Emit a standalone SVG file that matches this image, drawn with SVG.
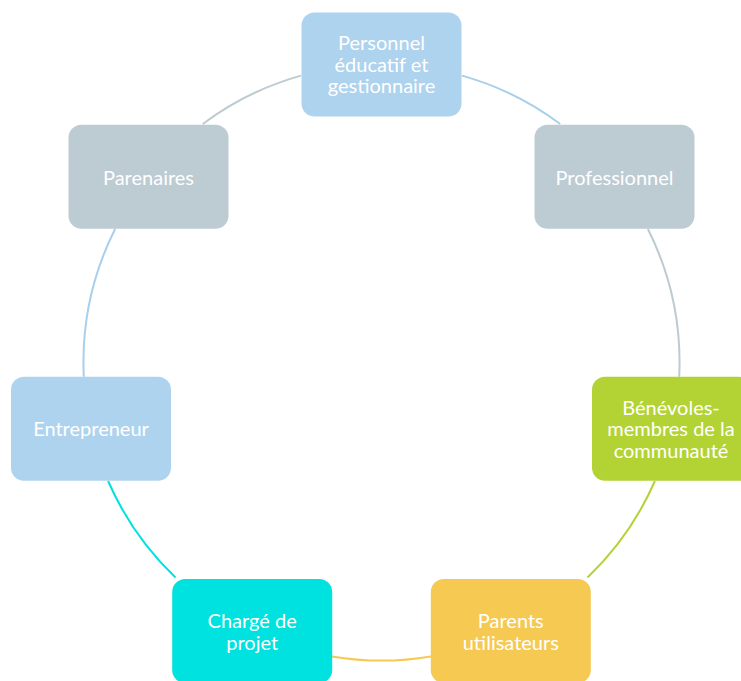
<svg xmlns="http://www.w3.org/2000/svg" width="741" height="681" viewBox="0 0 741 681">
<style>
.n rect{stroke:none}
.t{font-family:Lato,"Open Sans","Liberation Sans",sans-serif;font-size:20px;fill:#ffffff;text-anchor:middle}
.a{fill:none;stroke-width:2}
</style>
<rect width="741" height="681" fill="#ffffff"/>
<g id="connectors">
<path class="a" stroke="#a9cfeb" d="M462,75.6 A298,298 0 0 1 560.2,124"/>
<path class="a" stroke="#bccad2" d="M647.9,229 A298,298 0 0 1 679.2,376.8"/>
<path class="a" stroke="#b3d334" d="M654.9,481 A298,298 0 0 1 587.5,577.5"/>
<path class="a" stroke="#f6c952" d="M431,656.4 A298,298 0 0 1 332,656.4"/>
<path class="a" stroke="#00e2df" d="M175.5,577.5 A298,298 0 0 1 108.1,481"/>
<path class="a" stroke="#a9cfeb" d="M83.8,376.8 A298,298 0 0 1 115.1,229"/>
<path class="a" stroke="#bccad2" d="M202.8,124 A298,298 0 0 1 301,75.6"/>
</g>
<g id="node-personnel" class="n">
<rect x="301.5" y="12.5" width="160" height="104" rx="13" fill="#aed3ee"/>
<text class="t" x="381.5" y="50">Personnel</text>
<text class="t" x="381.5" y="71.5">éducatif et</text>
<text class="t" x="381.5" y="93">gestionnaire</text>
</g>
<g id="node-professionnel" class="n">
<rect x="534.5" y="124.7" width="160" height="104" rx="13" fill="#bdcbd3"/>
<text class="t" x="614.5" y="184.5">Professionnel</text>
</g>
<g id="node-benevoles" class="n">
<rect x="592" y="376.8" width="160" height="104" rx="13" fill="#b3d334"/>
<text class="t" x="671" y="414.5">Bénévoles-</text>
<text class="t" x="671" y="436">membres de la</text>
<text class="t" x="671" y="457.5">communauté</text>
</g>
<g id="node-parents" class="n">
<rect x="430.8" y="579" width="160" height="104" rx="13" fill="#f6c952"/>
<text class="t" x="510.8" y="628">Parents</text>
<text class="t" x="510.8" y="649.5">utilisateurs</text>
</g>
<g id="node-charge" class="n">
<rect x="172.2" y="579" width="160" height="104" rx="13" fill="#00e2df"/>
<text class="t" x="252.2" y="628">Chargé de</text>
<text class="t" x="252.2" y="649.5">projet</text>
</g>
<g id="node-entrepreneur" class="n">
<rect x="11" y="376.8" width="160" height="104" rx="13" fill="#aed3ee"/>
<text class="t" x="91" y="436.3">Entrepreneur</text>
</g>
<g id="node-parenaires" class="n">
<rect x="68.5" y="124.7" width="160" height="104" rx="13" fill="#bdcbd3"/>
<text class="t" x="148.5" y="184.5">Parenaires</text>
</g>
</svg>
